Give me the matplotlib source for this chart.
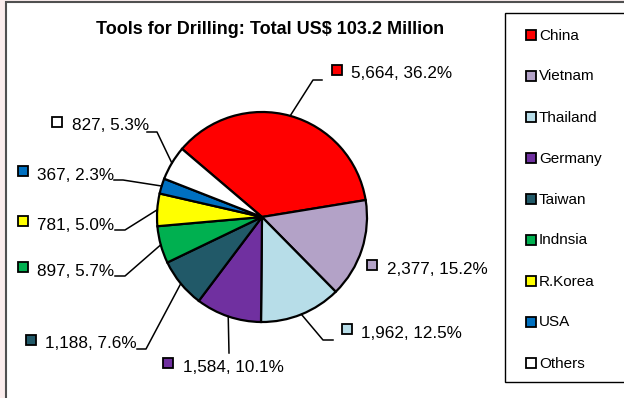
import matplotlib
matplotlib.use("Agg")
import matplotlib.pyplot as plt
from matplotlib.patches import Rectangle
import numpy as np

countries = ["China", "Vietnam", "Thailand", "Germany", "Taiwan",
             "Indnsia", "R.Korea", "USA", "Others"]
values = [5664, 2377, 1962, 1584, 1188, 897, 781, 367, 827]
percents = [36.2, 15.2, 12.5, 10.1, 7.6, 5.7, 5.0, 2.3, 5.3]
colors = ["#FF0000", "#B3A2C7", "#B7DDE8", "#7030A0", "#215968",
          "#00B050", "#FFFF00", "#0070C0", "#FFFFFF"]
title = "Tools for Drilling: Total US$ 103.2 Million"

W, H = 624, 398
fig = plt.figure(figsize=(W / 100, H / 100), dpi=100, facecolor="#FBEDED")
ax = fig.add_axes([0, 0, 1, 1])

def Y(y):
    # work in pixel rows counted from the top
    return H - y

cx, cy, r = 262, Y(217), 105
wedges, _ = ax.pie(values, colors=colors, startangle=139.6, counterclock=False,
                   center=(cx, cy), radius=r, frame=True,
                   wedgeprops=dict(edgecolor="black", linewidth=1.6))
ax.set_xlim(0, W)
ax.set_ylim(0, H)
ax.set_aspect("equal")
ax.axis("off")

# chart area and legend frame
ax.add_patch(Rectangle((6, Y(410)), 630, 408, facecolor="white",
                       edgecolor="#505050", linewidth=1.5, zorder=0))
ax.add_patch(Rectangle((505, Y(382)), 130, 369, facecolor="white",
                       edgecolor="black", linewidth=1.0, zorder=0.5))

ax.text(270, Y(30), title, ha="center", va="center", fontsize=13,
        fontweight="bold", family=["Liberation Sans", "DejaVu Sans"])

# label anchors: marker centre, text start x, leader path after the wedge edge
label_pos = [
    ((337, 70), 351, [(313, 80), (322, 80)]),
    ((372, 265), 387, []),
    ((347, 329), 361, [(323, 340), (333, 340)]),
    ((168, 363), 183, [(229, 353)]),
    ((31, 340), 45, [(146, 349), (137, 349)]),
    ((23, 267), 37, [(125, 276), (115, 276)]),
    ((23, 221), 37, [(125, 230), (115, 230)]),
    ((23, 171), 37, [(123, 180), (114, 180)]),
    ((57, 122), 72, [(157, 132), (147, 132)]),
]

for w, v, p, c, (sq, tx, path) in zip(wedges, values, percents, colors, label_pos):
    ax.plot(sq[0], Y(sq[1]), marker="s", markersize=6.5, color=c,
            markeredgecolor="black", markeredgewidth=1.3, zorder=5)
    ax.text(tx, Y(sq[1] + 4), f"{v:,}, {p:.1f}%", ha="left", va="center",
            fontsize=12.3, family=["Liberation Sans", "DejaVu Sans"])
    if path:
        mid = np.deg2rad((w.theta1 + w.theta2) / 2)
        xs = [cx + r * np.cos(mid)] + [q[0] for q in path]
        ys = [cy + r * np.sin(mid)] + [Y(q[1]) for q in path]
        ax.plot(xs, ys, color="black", linewidth=1.1, zorder=4)

# legend entries
for i, (name, c) in enumerate(zip(countries, colors)):
    yy = 35 + 41 * i
    ax.plot(530.5, Y(yy), marker="s", markersize=6.5, color=c,
            markeredgecolor="black", markeredgewidth=1.3, zorder=5)
    ax.text(539, Y(yy + 0.5), name, ha="left", va="center", fontsize=11,
            family=["Liberation Sans", "DejaVu Sans"])

fig.savefig("out.png", dpi=100, facecolor=fig.get_facecolor())
